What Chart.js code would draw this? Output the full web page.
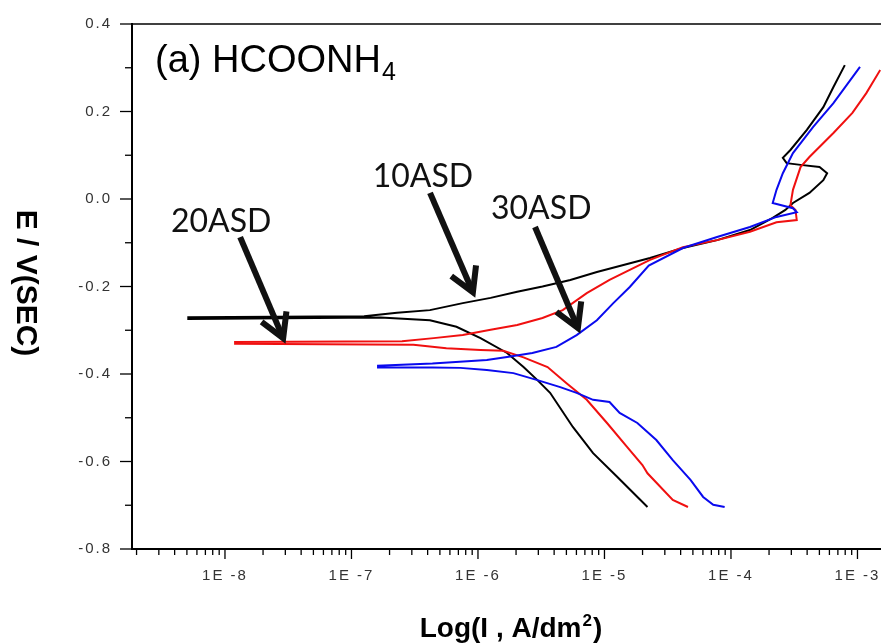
<!DOCTYPE html>
<html>
<head>
<meta charset="utf-8">
<script src="https://cdn.jsdelivr.net/npm/chart.js@4.4.0/dist/chart.umd.min.js"></script>
<style>
  html, body { margin: 0; padding: 0; background: #fff; }
  #wrap { width: 881px; height: 643px; position: relative; }
</style>
</head>
<body>
<div id="wrap"><canvas id="tafel"></canvas></div>
<script>
// Tafel curves: x = log10(I, A/dm2), y = E (V vs SCE)
// each trace runs cathodic end -> E corr -> anodic end
const asd10Log = [-4.66, -4.90, -5.09, -5.25, -5.43, -5.53, -5.64, -5.77, -5.98, -6.17, -6.38, -6.77, -8.29,
  -8.29, -6.90, -6.64, -6.38, -6.12, -5.90, -5.69, -5.49, -5.27, -5.06, -4.85, -4.64, -4.38, -4.11, -3.85,
  -3.67, -3.57, -3.51, -3.38, -3.27, -3.24, -3.30, -3.45, -3.56, -3.59, -3.53, -3.40, -3.27, -3.19, -3.10];
const asd10E = [-0.704, -0.635, -0.581, -0.521, -0.443, -0.414, -0.384, -0.352, -0.318, -0.292, -0.277, -0.271, -0.274,
  -0.270, -0.268, -0.260, -0.254, -0.238, -0.226, -0.212, -0.200, -0.185, -0.167, -0.151, -0.135, -0.112, -0.094, -0.071,
  -0.043, -0.025, -0.009, 0.014, 0.043, 0.059, 0.073, 0.078, 0.082, 0.094, 0.112, 0.158, 0.210, 0.256, 0.306];

const asd20Log = [-4.34, -4.46, -4.66, -4.70, -4.82, -4.98, -5.14, -5.30, -5.45, -5.64, -5.80, -5.98, -6.25, -6.51, -7.92,
  -7.92, -6.60, -6.35, -6.12, -5.90, -5.69, -5.49, -5.33, -5.14, -4.96, -4.80, -4.64, -4.38, -4.11, -3.85,
  -3.64, -3.48, -3.49, -3.53, -3.51, -3.45, -3.38, -3.19, -3.04, -2.93, -2.82];
const asd20E = [-0.704, -0.688, -0.627, -0.608, -0.567, -0.512, -0.459, -0.421, -0.384, -0.362, -0.347, -0.345, -0.341, -0.333, -0.331,
  -0.327, -0.325, -0.318, -0.311, -0.299, -0.288, -0.272, -0.254, -0.215, -0.185, -0.162, -0.139, -0.110, -0.094, -0.075,
  -0.053, -0.048, -0.025, -0.014, 0.021, 0.073, 0.096, 0.151, 0.197, 0.242, 0.295];

const asd30Log = [-4.05, -4.14, -4.22, -4.32, -4.46, -4.59, -4.74, -4.88, -4.96, -5.09, -5.22, -5.35, -5.53, -5.72, -5.93, -6.14, -6.36, -6.79,
  -6.79, -6.36, -5.93, -5.77, -5.57, -5.38, -5.22, -5.06, -4.93, -4.80, -4.65, -4.38, -4.11, -3.85,
  -3.64, -3.48, -3.51, -3.67, -3.64, -3.59, -3.51, -3.35, -3.19, -2.98];
const asd30E = [-0.704, -0.699, -0.681, -0.642, -0.597, -0.551, -0.512, -0.489, -0.464, -0.459, -0.443, -0.430, -0.414, -0.398, -0.391, -0.386, -0.385, -0.385,
  -0.381, -0.376, -0.368, -0.361, -0.352, -0.338, -0.311, -0.277, -0.238, -0.201, -0.152, -0.112, -0.087, -0.064,
  -0.041, -0.030, -0.021, -0.009, 0.021, 0.059, 0.105, 0.165, 0.219, 0.302];

const xTickVals = [-8, -7, -6, -5, -4, -3];
const xTickLabels = ['1E -8', '1E -7', '1E -6', '1E -5', '1E -4', '1E -3'];
const yTickVals = [0.4, 0.2, 0.0, -0.2, -0.4, -0.6, -0.8];
const yTickLabels = ['0.4', '0.2', '0.0', '-0.2', '-0.4', '-0.6', '-0.8'];

// arrow labels: text, label centre, arrow tail and head (same units as data)
const noteText = ['20ASD', '10ASD', '30ASD'];
const noteLog = [-8.03, -6.435, -5.50];
const noteE = [-0.075, 0.027, -0.046];
const arrowFromLog = [-7.88, -6.379, -5.549];
const arrowFromE = [-0.087, 0.014, -0.064];
const arrowToLog = [-7.54, -6.04, -5.21];
const arrowToE = [-0.318, -0.213, -0.295];

function pts(xs, ys) {
  return xs.map((v, i) => ({ x: v, y: ys[i] }));
}

function drawArrow(ctx, x0, y0, x1, y1) {
  const ang = Math.atan2(y1 - y0, x1 - x0);
  const head = 27, spread = Math.PI / 6;
  ctx.beginPath();
  ctx.moveTo(x0, y0);
  ctx.lineTo(x1, y1);
  ctx.stroke();
  ctx.beginPath();
  ctx.moveTo(x1 - head * Math.cos(ang - spread), y1 - head * Math.sin(ang - spread));
  ctx.lineTo(x1, y1);
  ctx.lineTo(x1 - head * Math.cos(ang + spread), y1 - head * Math.sin(ang + spread));
  ctx.stroke();
}

const decor = {
  id: 'decor',
  beforeDraw(chart) {
    chart.ctx.letterSpacing = '2px';
  },
  afterDraw(chart) {
    const ctx = chart.ctx;
    const xs = chart.scales.x, ys = chart.scales.y, a = chart.chartArea;
    ctx.save();
    ctx.letterSpacing = '0px';
    ctx.strokeStyle = '#000';

    // top frame line
    ctx.lineWidth = 1.5;
    ctx.beginPath();
    ctx.moveTo(a.left, a.top);
    ctx.lineTo(a.right, a.top);
    ctx.stroke();

    // x ticks, decades plus minor 2..9
    ctx.lineWidth = 1.3;
    for (let d = Math.floor(xs.min); d <= Math.ceil(xs.max); d++) {
      for (let k = 1; k <= 9; k++) {
        const v = d + Math.log10(k);
        if (v < xs.min || v > xs.max) continue;
        const px = xs.getPixelForValue(v);
        ctx.beginPath();
        ctx.moveTo(px, a.bottom);
        ctx.lineTo(px, a.bottom + (k === 1 ? 10 : 6));
        ctx.stroke();
      }
    }
    // y ticks, every 0.1
    for (let i = 0; i <= 12; i++) {
      const v = -0.8 + i * 0.1;
      const py = ys.getPixelForValue(v);
      ctx.beginPath();
      ctx.moveTo(a.left, py);
      ctx.lineTo(a.left - (i % 2 === 0 ? 12 : 7), py);
      ctx.stroke();
    }

    // arrows
    ctx.lineWidth = 6;
    ctx.lineJoin = 'miter';
    ctx.strokeStyle = '#111';
    for (let i = 0; i < noteText.length; i++) {
      drawArrow(ctx,
        xs.getPixelForValue(arrowFromLog[i]), ys.getPixelForValue(arrowFromE[i]),
        xs.getPixelForValue(arrowToLog[i]), ys.getPixelForValue(arrowToE[i]));
    }
    ctx.fillStyle = '#111';
    ctx.font = '32px Lato';
    ctx.textAlign = 'center';
    ctx.textBaseline = 'alphabetic';
    for (let i = 0; i < noteText.length; i++) {
      ctx.fillText(noteText[i], xs.getPixelForValue(noteLog[i]), ys.getPixelForValue(noteE[i]));
    }

    // panel title (a) HCOONH4
    ctx.fillStyle = '#000';
    ctx.textAlign = 'left';
    ctx.font = '38px "Liberation Sans", Arial';
    const tx = xs.getPixelForValue(-8.553), ty = ys.getPixelForValue(0.290);
    const main = '(a) HCOONH';
    ctx.fillText(main, tx, ty);
    const w = ctx.measureText(main).width;
    ctx.font = '25px "Liberation Sans", Arial';
    ctx.fillText('4', tx + w + 1, ty + 8);

    // axis titles
    ctx.textAlign = 'left';
    const xt1 = 'Log(I , A/dm';
    ctx.font = 'bold 28px "Liberation Sans", Arial';
    const w1 = ctx.measureText(xt1).width;
    ctx.font = 'bold 17px "Liberation Sans", Arial';
    const w2 = ctx.measureText('2').width;
    ctx.font = 'bold 28px "Liberation Sans", Arial';
    const w3 = ctx.measureText(')').width;
    const x0 = 510 - (w1 + w2 + w3) / 2;
    const yb = 637;
    ctx.fillText(xt1, x0, yb);
    ctx.font = 'bold 17px "Liberation Sans", Arial';
    ctx.fillText('2', x0 + w1 + 1, yb - 11);
    ctx.font = 'bold 28px "Liberation Sans", Arial';
    ctx.fillText(')', x0 + w1 + w2 + 2, yb);

    ctx.font = 'bold 30px "Liberation Sans", Arial';
    ctx.translate(25, 283);
    ctx.rotate(Math.PI / 2);
    ctx.textAlign = 'center';
    ctx.textBaseline = 'middle';
    ctx.fillText('E / V(SEC)', 0, 0);
    ctx.restore();
  }
};

new Chart('tafel', {
  type: 'line',
  data: {
    datasets: [{
      label: '30ASD',
      data: pts(asd30Log, asd30E),
      borderColor: '#0a0aee',
      borderWidth: 2
    }, {
      label: '20ASD',
      data: pts(asd20Log, asd20E),
      borderColor: '#f01010',
      borderWidth: 2
    }, {
      label: '10ASD',
      data: pts(asd10Log, asd10E),
      borderColor: '#000',
      borderWidth: 2
    }]
  },
  options: {
    responsive: true,
    maintainAspectRatio: false,
    animation: false,
    elements: { point: { radius: 0 }, line: { tension: 0, fill: false } },
    layout: { autoPadding: false, padding: { top: 24, right: 0, left: 0, bottom: 0 } },
    plugins: { legend: { display: false }, tooltip: { enabled: false } },
    scales: {
      x: {
        type: 'linear',
        min: -8.735,
        max: -2.814,
        afterBuildTicks: s => { s.ticks = xTickVals.map(v => ({ value: v })); },
        afterFit: s => {
          s.height = 94;
          s.paddingLeft = 0;
          s.paddingRight = 0;
        },
        grid: { display: false, drawTicks: false },
        border: { display: true, color: '#000', width: 2 },
        ticks: {
          padding: 18,
          color: '#333',
          font: { family: '"Liberation Sans", Arial', size: 15 },
          maxRotation: 0,
          autoSkip: false,
          callback: (v) => xTickLabels[xTickVals.indexOf(v)]
        }
      },
      y: {
        type: 'linear',
        min: -0.8,
        max: 0.4,
        afterBuildTicks: s => { s.ticks = yTickVals.map(v => ({ value: v })); },
        afterFit: s => {
          s.width = 132;
          s.paddingTop = 0;
          s.paddingBottom = 0;
        },
        grid: { display: false, drawTicks: false },
        border: { display: true, color: '#000', width: 2 },
        ticks: {
          padding: 20,
          color: '#333',
          font: { family: '"Liberation Sans", Arial', size: 15 },
          autoSkip: false,
          callback: (v) => yTickLabels[yTickVals.indexOf(v)]
        }
      }
    }
  },
  plugins: [decor]
});
</script>
</body>
</html>
